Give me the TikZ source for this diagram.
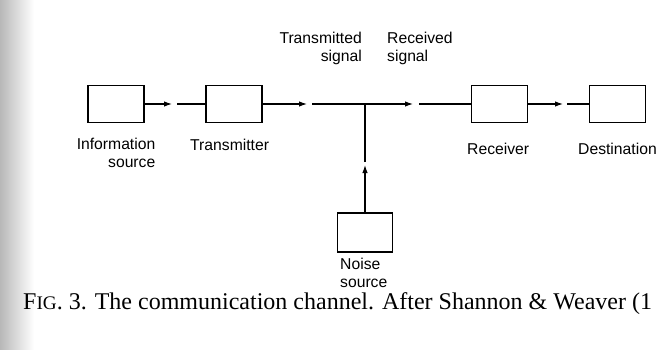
\documentclass[tikz,border=0pt]{standalone}
\usepackage{fontspec}
\setmainfont{Liberation Serif}
\newfontfamily\labelfont{Liberation Sans}
\usetikzlibrary{arrows.meta}
\tikzset{
  blk/.style={draw, line width=1.2pt, minimum width=56pt, minimum height=37pt, inner sep=0pt},
  lbl/.style={font=\labelfont\fontsize{15.7}{18}\selectfont, inner sep=0pt},
  wire/.style={line width=1.1pt},
  arr/.style={wire, -{Latex[length=8pt,width=5.5pt]}}
}
\begin{document}
\begin{tikzpicture}[x=1pt,y=-1pt]
\useasboundingbox (0,0) rectangle (656,349);
\clip (0,0) rectangle (656,349);
\shade[left color=black!28, right color=white] (0,0) rectangle (34,349);
% blocks
\node[blk] (info) at (116,104) {};
\node[blk] (trans) at (234,104) {};
\node[blk] (recv) at (499.5,104) {};
\node[blk] (dest) at (617.5,104) {};
\node[blk, minimum width=55pt, minimum height=39pt] (noise) at (365,232.5) {};
% labels
\node[lbl, anchor=north east, align=right] (linfo) at (155.5,137.6) {Information\\source};
\node[lbl, anchor=base west] (ltrans) at (190,150) {Transmitter};
\node[lbl, anchor=north east, align=right] (ltx) at (362,31.6) {Transmitted\\signal};
\node[lbl, anchor=north west, align=left] (lrx) at (387,31.6) {Received\\signal};
\node[lbl, anchor=base west] (lrecv) at (467,154) {Receiver};
\node[lbl, anchor=base west] (ldest) at (578,154) {Destination};
\node[lbl, anchor=north west, align=left] (lnoise) at (340,258.2) {Noise\\source};
% junction and arrow tips
\coordinate (j) at (365,104);
\coordinate (t1) at (172,104); \coordinate (r1) at (177,104);
\coordinate (t2) at (307,104); \coordinate (r2) at (312,104);
\coordinate (t3) at (413,104); \coordinate (r3) at (419,104);
\coordinate (t4) at (563,104); \coordinate (r4) at (567,104);
\coordinate (tv) at (365,165); \coordinate (rv) at (365,162);
% connectors
\draw[arr] (info.east) -- (t1);
\draw[wire] (r1) -- (trans.west);
\draw[arr] (trans.east) -- (t2);
\draw[wire] (r2) -- (j);
\draw[arr] (j) -- (t3);
\draw[wire] (r3) -- (recv.west);
\draw[arr] (recv.east) -- (t4);
\draw[wire] (r4) -- (dest.west);
\draw[arr] (noise.north) -- (tv);
\draw[wire] (rv) -- (j);
% caption
\node[anchor=base west, inner sep=0pt, font=\fontsize{24}{28}\selectfont] (cap) at (23,309)
  {F{\fontsize{19.2}{22}\selectfont IG}. 3. The communication channel. After Shannon \& Weaver (1};
\end{tikzpicture}
\end{document}
